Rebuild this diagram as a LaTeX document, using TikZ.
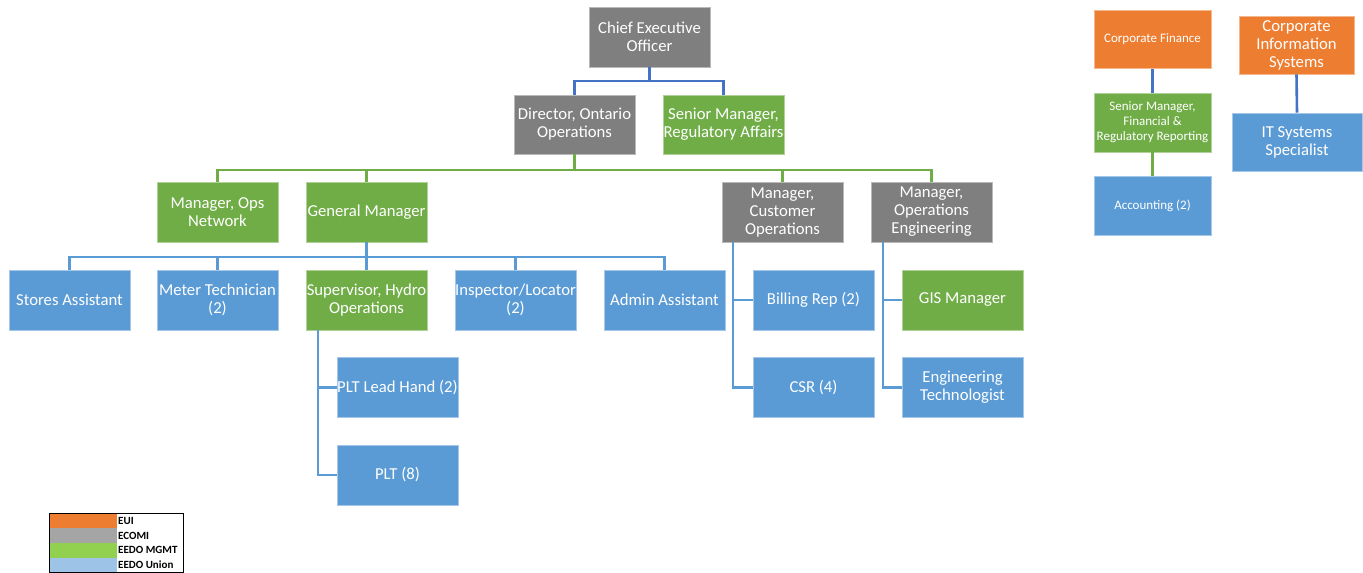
\documentclass[tikz,border=0pt]{standalone}
\usepackage{fontspec}
\setmainfont{Carlito}
\definecolor{cgray}{HTML}{7F7F7F}
\definecolor{cgreen}{HTML}{70AD47}
\definecolor{cblue}{HTML}{5B9BD5}
\definecolor{corange}{HTML}{ED7D31}
\definecolor{cdblue}{HTML}{4472C4}
\definecolor{lorange}{HTML}{ED7D31}
\definecolor{lgray}{HTML}{A5A5A5}
\definecolor{lgreen}{HTML}{92D050}
\definecolor{lblue}{HTML}{9DC3E6}
\tikzset{
  bx/.style={rectangle, minimum width=121pt, minimum height=60pt, inner sep=0pt,
    align=center, text=white, font=\fontsize{16.7}{18}\selectfont, line width=0.6pt},
  gry/.style={bx, fill=cgray, draw=cgray!55!white},
  grn/.style={bx, fill=cgreen, draw=cgreen!55!white},
  blu/.style={bx, fill=cblue, draw=cblue!55!white},
  org/.style={bx, fill=corange, draw=corange!55!white},
  small/.style={font=\fontsize{13}{15}\selectfont},
  lnb/.style={draw=cblue, line width=2.6pt},
  lnd/.style={draw=cdblue, line width=2.6pt},
  lng/.style={draw=cgreen, line width=2.6pt},
  legtxt/.style={anchor=west, inner sep=0pt, font=\bfseries\fontsize{11}{11}\selectfont, text=black}
}
\begin{document}
\begin{tikzpicture}[x=1pt, y=-1pt]
\useasboundingbox (0,0) rectangle (1363,573);
% top
\node[gry] (ceo) at (649.5,37) {Chief Executive\\Officer};
\node[gry, minimum height=59pt] (dir) at (574.5,124.5) {Director, Ontario\\Operations};
\node[grn, minimum height=59pt] (smra) at (723.5,124.5) {Senior Manager,\\Regulatory Affairs};
% row 3
\node[grn] (mon) at (217.5,212) {Manager, Ops\\Network};
\node[grn] (gm) at (366.5,212) {General Manager};
\node[gry] (mco) at (782.5,212) {Manager,\\Customer\\Operations};
\node[gry] (moe) at (931.5,212) {Manager,\\Operations\\Engineering};
% row 4
\node[blu] (sa) at (69.5,300) {Stores Assistant};
\node[blu] (mt) at (217.5,300) {Meter Technician\\(2)};
\node[grn] (sup) at (366.5,300) {Supervisor, Hydro\\Operations};
\node[blu] (ins) at (515.5,300) {Inspector/Locator\\(2)};
\node[blu] (adm) at (664.5,300) {Admin Assistant};
\node[blu] (br) at (813.5,300) {Billing Rep (2)};
\node[grn] (gis) at (962.5,300) {GIS Manager};
% row 5/6
\node[blu] (plh) at (397.5,387.5) {PLT Lead Hand (2)};
\node[blu] (plt) at (397.5,475) {PLT (8)};
\node[blu] (csr) at (813.5,387.5) {CSR (4)};
\node[blu] (et) at (962.5,387.5) {Engineering\\Technologist};
% right side
\node[org, small, minimum width=117pt, minimum height=58pt] (cf) at (1152.5,39.5) {Corporate Finance};
\node[grn, small, minimum width=117pt, minimum height=59pt] (smf) at (1152.5,122.5) {Senior Manager,\\Financial \&\\Regulatory Reporting};
\node[blu, small, minimum width=117pt, minimum height=59pt] (acc) at (1152.5,205.5) {Accounting (2)};
\node[org, minimum width=115pt, minimum height=58pt] (cis) at (1296.5,45) {Corporate\\Information\\Systems};
\node[blu, minimum width=130pt, minimum height=58pt] (its) at (1297,142) {IT Systems\\Specialist};
% connectors
\coordinate (b1) at (649.5,81);
\draw[lnd] (ceo.south) -- (b1);
\draw[lnd] (dir.north) |- (b1) -| (smra.north);
\coordinate (b2) at (574.5,170);
\draw[lng] (dir.south) -- (b2);
\draw[lng] (mon.north) |- (b2) -| (moe.north);
\draw[lng] (gm.north) -- (gm.north |- b2);
\draw[lng] (mco.north) -- (mco.north |- b2);
\coordinate (b3) at (366.5,257);
\draw[lnb] (gm.south) -- (sup.north);
\draw[lnb] (sa.north) |- (b3) -| (adm.north);
\draw[lnb] (mt.north) -- (mt.north |- b3);
\draw[lnb] (ins.north) -- (ins.north |- b3);
\coordinate (s1) at (318,330);
\draw[lnb] (s1) |- (plh.west);
\draw[lnb] (s1) |- (plt.west);
\coordinate (m1) at (733,242);
\draw[lnb] (m1) |- (br.west);
\draw[lnb] (m1) |- (csr.west);
\coordinate (m2) at (883,242);
\draw[lnb] (m2) |- (gis.west);
\draw[lnb] (m2) |- (et.west);
\draw[lnd] (cf.south) -- (smf.north);
\draw[lng] (smf.south) -- (acc.north);
\draw[lnd] (cis.south) -- (its.north);
% legend
\fill[lorange] (49,513) rectangle (117,528);
\fill[lgray] (49,528) rectangle (117,543);
\fill[lgreen] (49,543) rectangle (117,557.5);
\fill[lblue] (49,557.5) rectangle (117,572);
\draw[black, line width=0.8pt] (49,513) rectangle (183,572);
\node[legtxt] (l1) at (118,520.5) {EUI};
\node[legtxt] (l2) at (118,535.5) {ECOMI};
\node[legtxt] (l3) at (118,550) {EEDO MGMT};
\node[legtxt] (l4) at (118,564.5) {EEDO Union};
\end{tikzpicture}
\end{document}
